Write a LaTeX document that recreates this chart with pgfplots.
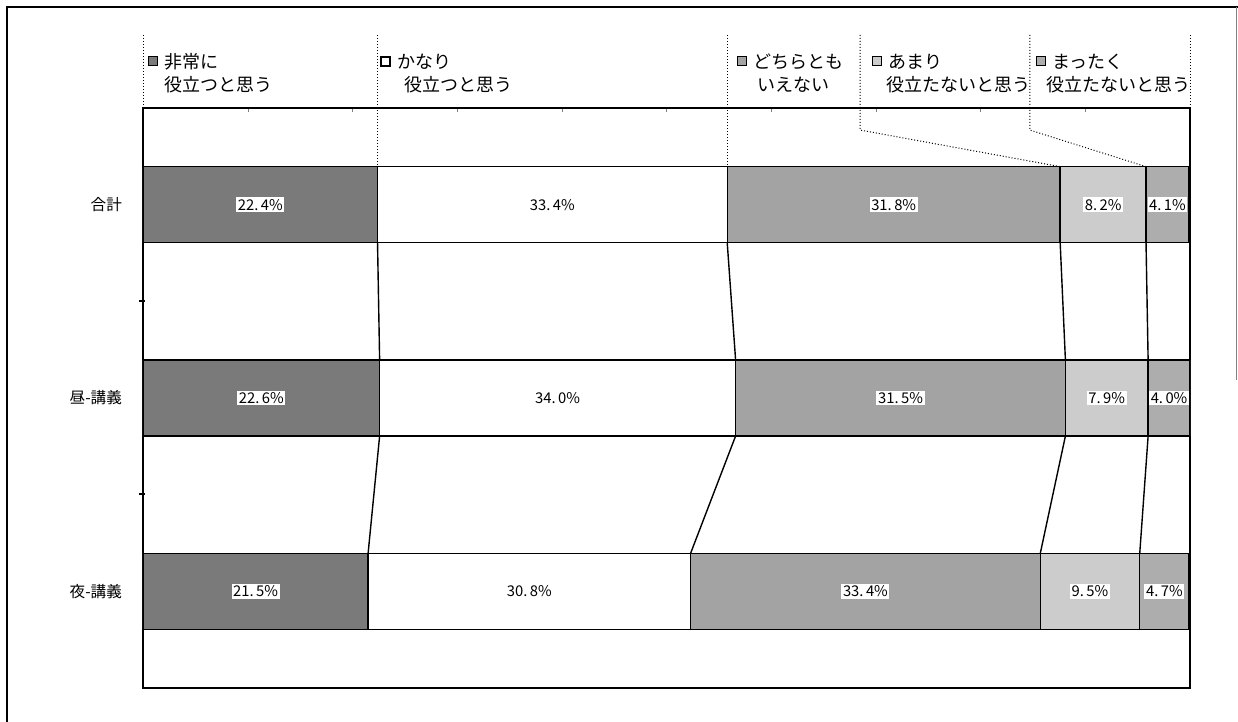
\documentclass[border=0pt]{standalone}
\usepackage{fontspec}
\setmainfont{Noto Sans CJK JP}
\usepackage{pgfplots}
\pgfplotsset{compat=1.18}

\definecolor{sA}{gray}{0.48}
\definecolor{sB}{gray}{1.00}
\definecolor{sC}{gray}{0.64}
\definecolor{sD}{gray}{0.80}
\definecolor{sE}{gray}{0.68}

\begin{document}
\begin{tikzpicture}[x=0.5pt,y=-0.5pt]
\path[use as bounding box] (0,0) rectangle (1238,722);
\draw[line width=1pt] (7,722) -- (7,7) -- (1238,7);
\draw[gray, line width=0.4pt] (1236,7) -- (1236,380);

% ---- bars ----
\begin{axis}[
  at={(71.5pt,-344pt)}, anchor=south west,
  scale only axis, width=523.5pt, height=290pt,
  xmin=0, xmax=100, ymin=-0.5, ymax=2.5, y dir=reverse,
  xbar stacked, bar width=38pt,
  ytick={0,1,2}, yticklabels={合計,昼-講義,夜-講義},
  ytick style={draw=none},
  yticklabel style={font=\fontsize{7.8pt}{9pt}\selectfont, xshift=-7pt},
  xtick={10,20,...,90}, xticklabels={}, xtick pos=right,
  tick align=inside, major tick length=2pt,
  axis line style={line width=1pt},
]
\addplot[fill=sA, draw=black, line width=0.7pt] coordinates {(22.4,0) (22.6,1) (21.5,2)};
\addplot[fill=sB, draw=black, line width=0.7pt] coordinates {(33.4,0) (34.0,1) (30.8,2)};
\addplot[fill=sC, draw=black, line width=0.7pt] coordinates {(31.8,0) (31.5,1) (33.4,2)};
\addplot[fill=sD, draw=black, line width=0.7pt] coordinates {(8.2,0) (7.9,1) (9.5,2)};
\addplot[fill=sE, draw=black, line width=0.7pt] coordinates {(4.1,0) (4.0,1) (4.7,2)};
\end{axis}

% ---- series lines, value labels, legend leader lines ----
\begin{axis}[
  at={(71.5pt,-344pt)}, anchor=south west,
  scale only axis, width=523.5pt, height=290pt,
  xmin=0, xmax=100, ymin=-0.5, ymax=2.5, y dir=reverse,
  axis lines=none, ticks=none, clip=false,
]
% series lines (cumulative boundaries)
\addplot[black, line width=0.7pt, mark=none] coordinates {(22.4,0.1966) (22.6,0.8034)};
\addplot[black, line width=0.7pt, mark=none] coordinates {(55.8,0.1966) (56.6,0.8034)};
\addplot[black, line width=0.7pt, mark=none] coordinates {(87.6,0.1966) (88.1,0.8034)};
\addplot[black, line width=0.7pt, mark=none] coordinates {(95.8,0.1966) (96.0,0.8034)};
\addplot[black, line width=0.7pt, mark=none] coordinates {(22.6,1.1966) (21.5,1.8034)};
\addplot[black, line width=0.7pt, mark=none] coordinates {(56.6,1.1966) (52.3,1.8034)};
\addplot[black, line width=0.7pt, mark=none] coordinates {(88.1,1.1966) (85.7,1.8034)};
\addplot[black, line width=0.7pt, mark=none] coordinates {(96.0,1.1966) (95.2,1.8034)};
% legend leader lines
\addplot[black, densely dotted, line width=0.5pt, mark=none] coordinates {(0,-0.878) (0,-0.5)};
\addplot[black, densely dotted, line width=0.5pt, mark=none] coordinates {(22.4,-0.878) (22.4,-0.1966)};
\addplot[black, densely dotted, line width=0.5pt, mark=none] coordinates {(55.8,-0.878) (55.8,-0.1966)};
\addplot[black, densely dotted, line width=0.5pt, mark=none] coordinates {(68.5,-0.878) (68.5,-0.386) (87.6,-0.1966)};
\addplot[black, densely dotted, line width=0.5pt, mark=none] coordinates {(84.7,-0.878) (84.7,-0.386) (95.8,-0.1966)};
\addplot[black, densely dotted, line width=0.5pt, mark=none] coordinates {(100,-0.878) (100,-0.5)};
% value labels
\addplot[draw=none, mark=none, nodes near coords, point meta=explicit symbolic,
  nodes near coords align=center,
  every node near coord/.append style={anchor=center, fill=white, inner sep=0.8pt,
    font=\fontsize{7.4pt}{8pt}\selectfont}]
coordinates {
(11.2,0) [22.\,4\%] (39.1,0) [33.\,4\%] (71.7,0) [31.\,8\%] (91.7,0) [8.\,2\%] (97.85,0) [4.\,1\%]
(11.3,1) [22.\,6\%] (39.6,1) [34.\,0\%] (72.35,1) [31.\,5\%] (92.05,1) [7.\,9\%] (98.0,1) [4.\,0\%]
(10.75,2) [21.\,5\%] (36.9,2) [30.\,8\%] (69.0,2) [33.\,4\%] (90.45,2) [9.\,5\%] (97.55,2) [4.\,7\%]
};
\end{axis}

% ---- legend texts ----
\begin{scope}[font=\fontsize{9pt}{10pt}\selectfont]
\draw[fill=sA, line width=0.5pt] (148,57) rectangle (157,66);
\node[anchor=west, inner sep=0pt] at (164,62) {非常に};
\node[anchor=west, inner sep=0pt] at (164,85) {役立つと思う};
\draw[fill=sB, line width=0.7pt] (381,57) rectangle (390,66);
\node[anchor=west, inner sep=0pt] at (397,62) {かなり};
\node[anchor=west, inner sep=0pt] at (404,85) {役立つと思う};
\draw[fill=sC, line width=0.5pt] (737,57) rectangle (746,66);
\node[anchor=west, inner sep=0pt] at (753,62) {どちらとも};
\node[anchor=west, inner sep=0pt] at (757,85) {いえない};
\draw[fill=sD, line width=0.5pt] (872,57) rectangle (881,66);
\node[anchor=west, inner sep=0pt] at (888,62) {あまり};
\node[anchor=west, inner sep=0pt] at (886,85) {役立たないと思う};
\draw[fill=sE, line width=0.5pt] (1036,57) rectangle (1045,66);
\node[anchor=west, inner sep=0pt] at (1052,62) {まったく};
\node[anchor=west, inner sep=0pt] at (1046,85) {役立たないと思う};
\end{scope}
% small ticks between categories on the left axis
\draw[line width=0.7pt] (139,301) -- (145,301);
\draw[line width=0.7pt] (139,494) -- (145,494);
\end{tikzpicture}
\end{document}
